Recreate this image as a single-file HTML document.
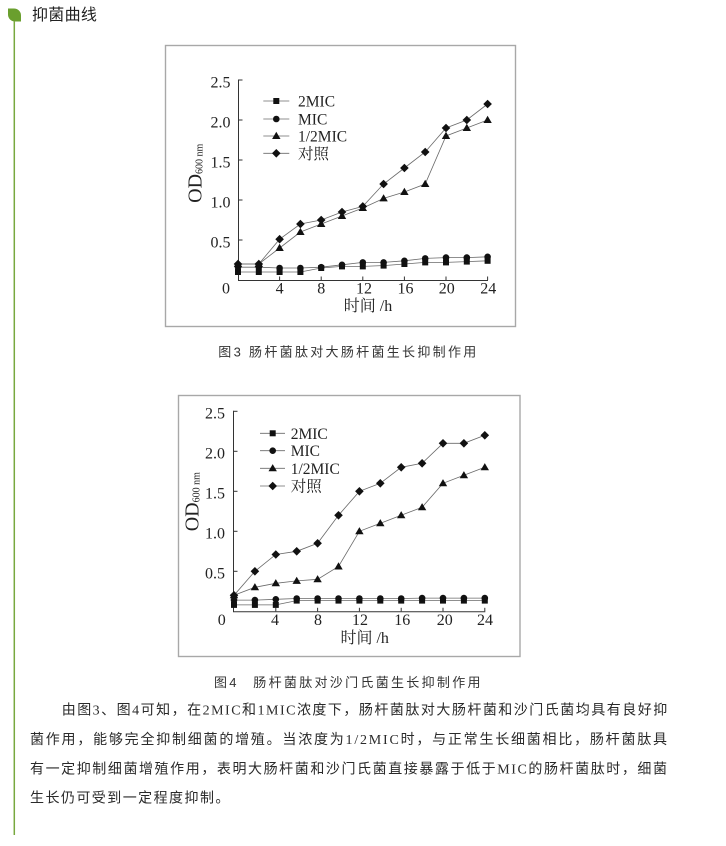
<!DOCTYPE html>
<html>
<head>
<meta charset="utf-8">
<style>
html,body{margin:0;padding:0;background:#fff;}
svg{display:block;}
.ser{font-family:"Liberation Serif","Noto Serif CJK SC",serif;fill:#222;}
.sans{font-family:"Liberation Sans","Noto Sans CJK SC",sans-serif;fill:#333;}
.para{font-family:"Liberation Serif","Noto Sans CJK SC",sans-serif;fill:#2a2a2a;font-size:14px;}
.ln{fill:none;stroke:#6a6a6a;stroke-width:0.8;}
.ax{stroke:#333;stroke-width:1;fill:none;}
</style>
</head>
<body>
<svg width="726" height="846" viewBox="0 0 726 846" xmlns="http://www.w3.org/2000/svg">
<defs>
<rect id="sq" x="-3" y="-3" width="6" height="6" fill="#111"/>
<circle id="ci" r="3.3" fill="#111"/>
<polygon id="tr" points="0,-4.2 4.2,3 -4.2,3" fill="#111"/>
<polygon id="di" points="0,-4.3 4.3,0 0,4.3 -4.3,0" fill="#111"/>
</defs>

<!-- header -->
<path d="M8,8.5 H14 A7,7 0 0 1 21,15.5 V21.5 H15 A7,7 0 0 1 8,14.5 Z" fill="#6a9f2e"/>
<line x1="14.3" y1="21" x2="14.3" y2="835" stroke="#78a83e" stroke-width="1.5"/>
<text class="sans" x="32" y="19.8" font-size="16" letter-spacing="0.3" style="fill:#222">抑菌曲线</text>

<!-- ============ CHART 1 ============ -->
<rect x="165.5" y="45.5" width="350" height="281" fill="#fff" stroke="#a8a8a8" stroke-width="1.4"/>
<!-- axes -->
<line class="ax" x1="238.5" y1="79.5" x2="238.5" y2="280.5"/>
<line class="ax" x1="238" y1="280.5" x2="488" y2="280.5"/>
<g class="ax">
<line x1="238.5" y1="80" x2="242.5" y2="80"/>
<line x1="238.5" y1="120" x2="242.5" y2="120"/>
<line x1="238.5" y1="160" x2="242.5" y2="160"/>
<line x1="238.5" y1="200" x2="242.5" y2="200"/>
<line x1="238.5" y1="240" x2="242.5" y2="240"/>
<line x1="279.6" y1="280" x2="279.6" y2="276.5"/>
<line x1="321.2" y1="280" x2="321.2" y2="276.5"/>
<line x1="362.8" y1="280" x2="362.8" y2="276.5"/>
<line x1="404.4" y1="280" x2="404.4" y2="276.5"/>
<line x1="446" y1="280" x2="446" y2="276.5"/>
<line x1="487.6" y1="280" x2="487.6" y2="276.5"/>
</g>
<g class="ser" font-size="16">
<text x="230.5" y="87.3" text-anchor="end">2.5</text>
<text x="230.5" y="127.3" text-anchor="end">2.0</text>
<text x="230.5" y="167.3" text-anchor="end">1.5</text>
<text x="230.5" y="207.3" text-anchor="end">1.0</text>
<text x="230.5" y="247.3" text-anchor="end">0.5</text>
<text x="226" y="293.4" text-anchor="middle">0</text>
<text x="279.6" y="293.4" text-anchor="middle">4</text>
<text x="321.3" y="293.4" text-anchor="middle">8</text>
<text x="364" y="293.4" text-anchor="middle">12</text>
<text x="405.5" y="293.4" text-anchor="middle">16</text>
<text x="446.7" y="293.4" text-anchor="middle">20</text>
<text x="488.3" y="293.4" text-anchor="middle">24</text>
</g>
<text class="ser" transform="translate(201.5,173.3) rotate(-90)" text-anchor="middle" font-size="20">OD<tspan font-size="10" dy="1">600 nm</tspan></text>
<text class="ser" x="368" y="311" text-anchor="middle" font-size="16">时间 /h</text>

<!-- series lines chart1 -->
<polyline class="ln" points="238,264 258.8,264 279.6,239.2 300.4,224 321.2,220 342,212 362.8,206.4 383.6,184 404.4,168 425.2,152 446,128 466.8,120 487.6,104"/>
<polyline class="ln" points="238,264 258.8,264 279.6,248 300.4,232 321.2,224 342,216 362.8,208 383.6,198.4 404.4,192 425.2,184 446,136 466.8,128 487.6,120"/>
<polyline class="ln" points="238,267.2 258.8,267.2 279.6,268 300.4,268 321.2,267.2 342,264.8 362.8,262.4 383.6,262.4 404.4,260.8 425.2,258.4 446,257.6 466.8,257.6 487.6,256.8"/>
<polyline class="ln" points="238,272 258.8,272 279.6,272 300.4,272 321.2,268 342,266.4 362.8,266.4 383.6,265.6 404.4,264 425.2,262.4 446,262.4 466.8,261.6 487.6,260.8"/>
<!-- markers chart1 -->
<g>
<use href="#sq" x="238" y="272"/><use href="#sq" x="258.8" y="272"/><use href="#sq" x="279.6" y="272"/><use href="#sq" x="300.4" y="272"/><use href="#sq" x="321.2" y="268"/><use href="#sq" x="342" y="266.4"/><use href="#sq" x="362.8" y="266.4"/><use href="#sq" x="383.6" y="265.6"/><use href="#sq" x="404.4" y="264"/><use href="#sq" x="425.2" y="262.4"/><use href="#sq" x="446" y="262.4"/><use href="#sq" x="466.8" y="261.6"/><use href="#sq" x="487.6" y="260.8"/>
<use href="#ci" x="238" y="267.2"/><use href="#ci" x="258.8" y="267.2"/><use href="#ci" x="279.6" y="268"/><use href="#ci" x="300.4" y="268"/><use href="#ci" x="321.2" y="267.2"/><use href="#ci" x="342" y="264.8"/><use href="#ci" x="362.8" y="262.4"/><use href="#ci" x="383.6" y="262.4"/><use href="#ci" x="404.4" y="260.8"/><use href="#ci" x="425.2" y="258.4"/><use href="#ci" x="446" y="257.6"/><use href="#ci" x="466.8" y="257.6"/><use href="#ci" x="487.6" y="256.8"/>
<use href="#tr" x="238" y="264"/><use href="#tr" x="258.8" y="264"/><use href="#tr" x="279.6" y="248"/><use href="#tr" x="300.4" y="232"/><use href="#tr" x="321.2" y="224"/><use href="#tr" x="342" y="216"/><use href="#tr" x="362.8" y="208"/><use href="#tr" x="383.6" y="198.4"/><use href="#tr" x="404.4" y="192"/><use href="#tr" x="425.2" y="184"/><use href="#tr" x="446" y="136"/><use href="#tr" x="466.8" y="128"/><use href="#tr" x="487.6" y="120"/>
<use href="#di" x="238" y="264"/><use href="#di" x="258.8" y="264"/><use href="#di" x="279.6" y="239.2"/><use href="#di" x="300.4" y="224"/><use href="#di" x="321.2" y="220"/><use href="#di" x="342" y="212"/><use href="#di" x="362.8" y="206.4"/><use href="#di" x="383.6" y="184"/><use href="#di" x="404.4" y="168"/><use href="#di" x="425.2" y="152"/><use href="#di" x="446" y="128"/><use href="#di" x="466.8" y="120"/><use href="#di" x="487.6" y="104"/>
</g>
<!-- legend chart1 -->
<g>
<line class="ln" x1="263.3" y1="101" x2="289.3" y2="101"/><use href="#sq" x="276.3" y="101"/>
<line class="ln" x1="263.3" y1="119" x2="289.3" y2="119"/><use href="#ci" x="276.3" y="119"/>
<line class="ln" x1="263.3" y1="136" x2="289.3" y2="136"/><use href="#tr" x="276.3" y="136"/>
<line class="ln" x1="263.3" y1="153.3" x2="289.3" y2="153.3"/><use href="#di" x="276.3" y="153.3"/>
</g>
<g class="ser" font-size="15.5">
<text x="298" y="106.5">2MIC</text>
<text x="298" y="124.5">MIC</text>
<text x="298" y="141.5">1/2MIC</text>
<text x="298" y="158.8">对照</text>
</g>

<text class="sans" x="218.3" y="356.6" font-size="13" letter-spacing="2.3">图3 肠杆菌肽对大肠杆菌生长抑制作用</text>

<!-- ============ CHART 2 ============ -->
<rect x="178.5" y="395.5" width="341.5" height="261" fill="#fff" stroke="#a8a8a8" stroke-width="1.4"/>
<line class="ax" x1="233.5" y1="410.8" x2="233.5" y2="611.8"/>
<line class="ax" x1="233" y1="611.8" x2="485.3" y2="611.8"/>
<g class="ax">
<line x1="233.5" y1="411.3" x2="237.5" y2="411.3"/>
<line x1="233.5" y1="451.3" x2="237.5" y2="451.3"/>
<line x1="233.5" y1="491.3" x2="237.5" y2="491.3"/>
<line x1="233.5" y1="531.3" x2="237.5" y2="531.3"/>
<line x1="233.5" y1="571.3" x2="237.5" y2="571.3"/>
<line x1="275.8" y1="611.3" x2="275.8" y2="607.8"/>
<line x1="317.6" y1="611.3" x2="317.6" y2="607.8"/>
<line x1="359.4" y1="611.3" x2="359.4" y2="607.8"/>
<line x1="401.2" y1="611.3" x2="401.2" y2="607.8"/>
<line x1="443" y1="611.3" x2="443" y2="607.8"/>
<line x1="484.8" y1="611.3" x2="484.8" y2="607.8"/>
</g>
<g class="ser" font-size="16">
<text x="225" y="418.6" text-anchor="end">2.5</text>
<text x="225" y="458.6" text-anchor="end">2.0</text>
<text x="225" y="498.6" text-anchor="end">1.5</text>
<text x="225" y="538.6" text-anchor="end">1.0</text>
<text x="225" y="578.6" text-anchor="end">0.5</text>
<text x="221.7" y="625" text-anchor="middle">0</text>
<text x="275" y="625" text-anchor="middle">4</text>
<text x="318" y="625" text-anchor="middle">8</text>
<text x="360" y="625" text-anchor="middle">12</text>
<text x="402.3" y="625" text-anchor="middle">16</text>
<text x="444.7" y="625" text-anchor="middle">20</text>
<text x="485" y="625" text-anchor="middle">24</text>
</g>
<text class="ser" transform="translate(198.3,501.7) rotate(-90)" text-anchor="middle" font-size="20">OD<tspan font-size="10" dy="1">600 nm</tspan></text>
<text class="ser" x="364.7" y="643" text-anchor="middle" font-size="16">时间 /h</text>

<polyline class="ln" points="234,595.3 254.9,571.3 275.8,554.5 296.7,551.3 317.6,543.3 338.5,515.3 359.4,491.3 380.3,483.3 401.2,467.3 422.1,463.3 443,443.3 463.9,443.3 484.8,435.3"/>
<polyline class="ln" points="234,595.3 254.9,587.3 275.8,583.3 296.7,580.9 317.6,579.3 338.5,566.5 359.4,531.3 380.3,523.3 401.2,515.3 422.1,507.3 443,483.3 463.9,475.3 484.8,467.3"/>
<polyline class="ln" points="234,600.1 254.9,600.1 275.8,599.3 296.7,598.5 317.6,598.5 338.5,598.5 359.4,598.5 380.3,598.5 401.2,598.5 422.1,598.1 443,598.1 463.9,598.1 484.8,598.1"/>
<polyline class="ln" points="234,604.9 254.9,604.9 275.8,604.9 296.7,600.6 317.6,600.6 338.5,600.6 359.4,600.6 380.3,600.6 401.2,600.6 422.1,600.6 443,600.6 463.9,600.6 484.8,600.6"/>
<g>
<use href="#sq" x="234" y="604.9"/><use href="#sq" x="254.9" y="604.9"/><use href="#sq" x="275.8" y="604.9"/><use href="#sq" x="296.7" y="600.6"/><use href="#sq" x="317.6" y="600.6"/><use href="#sq" x="338.5" y="600.6"/><use href="#sq" x="359.4" y="600.6"/><use href="#sq" x="380.3" y="600.6"/><use href="#sq" x="401.2" y="600.6"/><use href="#sq" x="422.1" y="600.6"/><use href="#sq" x="443" y="600.6"/><use href="#sq" x="463.9" y="600.6"/><use href="#sq" x="484.8" y="600.6"/>
<use href="#ci" x="234" y="600.1"/><use href="#ci" x="254.9" y="600.1"/><use href="#ci" x="275.8" y="599.3"/><use href="#ci" x="296.7" y="598.5"/><use href="#ci" x="317.6" y="598.5"/><use href="#ci" x="338.5" y="598.5"/><use href="#ci" x="359.4" y="598.5"/><use href="#ci" x="380.3" y="598.5"/><use href="#ci" x="401.2" y="598.5"/><use href="#ci" x="422.1" y="598.1"/><use href="#ci" x="443" y="598.1"/><use href="#ci" x="463.9" y="598.1"/><use href="#ci" x="484.8" y="598.1"/>
<use href="#tr" x="234" y="595.3"/><use href="#tr" x="254.9" y="587.3"/><use href="#tr" x="275.8" y="583.3"/><use href="#tr" x="296.7" y="580.9"/><use href="#tr" x="317.6" y="579.3"/><use href="#tr" x="338.5" y="566.5"/><use href="#tr" x="359.4" y="531.3"/><use href="#tr" x="380.3" y="523.3"/><use href="#tr" x="401.2" y="515.3"/><use href="#tr" x="422.1" y="507.3"/><use href="#tr" x="443" y="483.3"/><use href="#tr" x="463.9" y="475.3"/><use href="#tr" x="484.8" y="467.3"/>
<use href="#di" x="234" y="595.3"/><use href="#di" x="254.9" y="571.3"/><use href="#di" x="275.8" y="554.5"/><use href="#di" x="296.7" y="551.3"/><use href="#di" x="317.6" y="543.3"/><use href="#di" x="338.5" y="515.3"/><use href="#di" x="359.4" y="491.3"/><use href="#di" x="380.3" y="483.3"/><use href="#di" x="401.2" y="467.3"/><use href="#di" x="422.1" y="463.3"/><use href="#di" x="443" y="443.3"/><use href="#di" x="463.9" y="443.3"/><use href="#di" x="484.8" y="435.3"/>
</g>
<g>
<line class="ln" x1="260" y1="433.3" x2="285" y2="433.3"/><use href="#sq" x="272.7" y="433.3"/>
<line class="ln" x1="260" y1="450.7" x2="285" y2="450.7"/><use href="#ci" x="272.7" y="450.7"/>
<line class="ln" x1="260" y1="468.3" x2="285" y2="468.3"/><use href="#tr" x="272.7" y="468.3"/>
<line class="ln" x1="260" y1="486" x2="285" y2="486"/><use href="#di" x="272.7" y="486"/>
</g>
<g class="ser" font-size="15.5">
<text x="290.7" y="438.8">2MIC</text>
<text x="290.7" y="456.2">MIC</text>
<text x="290.7" y="473.8">1/2MIC</text>
<text x="290.7" y="491.5">对照</text>
</g>

<text class="sans" x="214" y="687.1" font-size="13" letter-spacing="2.3">图4</text>
<text class="sans" x="253.3" y="687.1" font-size="13" letter-spacing="2.3">肠杆菌肽对沙门氏菌生长抑制作用</text>

<!-- paragraph -->
<text class="para" x="61.7" y="714.5" textLength="605.5" lengthAdjust="spacing">由图3、图4可知，在2MIC和1MIC浓度下，肠杆菌肽对大肠杆菌和沙门氏菌均具有良好抑</text>
<text class="para" x="30" y="743.9" textLength="637" lengthAdjust="spacing">菌作用，能够完全抑制细菌的增殖。当浓度为1/2MIC时，与正常生长细菌相比，肠杆菌肽具</text>
<text class="para" x="30" y="773.3" textLength="637" lengthAdjust="spacing">有一定抑制细菌增殖作用，表明大肠杆菌和沙门氏菌直接暴露于低于MIC的肠杆菌肽时，细菌</text>
<text class="para" x="30" y="802.7" letter-spacing="1.45">生长仍可受到一定程度抑制。</text>
</svg>
</body>
</html>
